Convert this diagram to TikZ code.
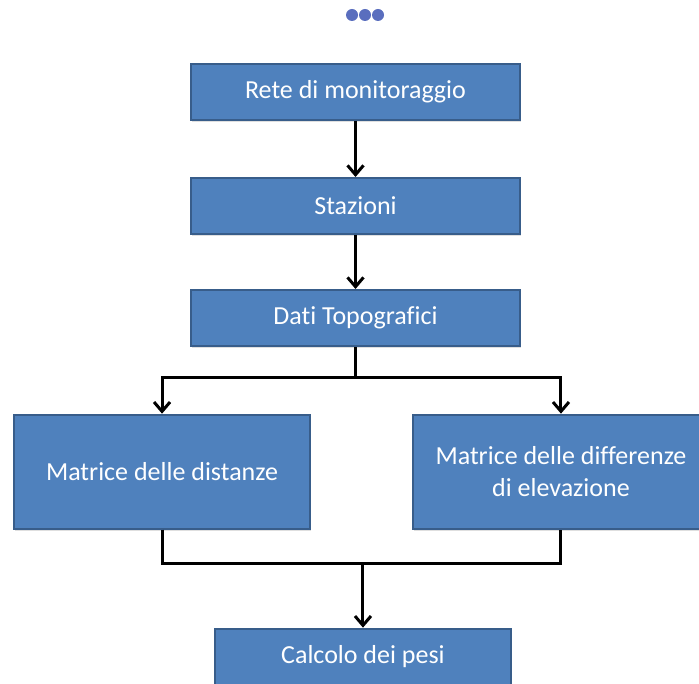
\documentclass[tikz,border=0pt]{standalone}
\usepackage{fontspec}
\setmainfont[Ligatures=CommonOff]{Carlito}
\usetikzlibrary{arrows.meta, positioning, shadows}
\definecolor{boxF}{RGB}{79, 129, 189}
\definecolor{boxD}{RGB}{56, 93, 138}
\definecolor{dotC}{RGB}{90, 110, 190}
\tikzset{
  stepbox/.style = {rectangle, draw=boxD, fill=boxF, line width=1.5pt,
                    text=white, align=center, minimum width=246.75pt,
                    minimum height=42pt, font=\fontsize{19.5}{23.5}\selectfont,
                    drop shadow={opacity=0.25, shadow xshift=1pt, shadow yshift=-1.5pt}},
  bigbox/.style  = {stepbox, minimum width=222pt, minimum height=85.5pt},
  arr/.style     = {-{Straight Barb[length=7pt, width=12pt]}, line width=2.25pt},
  lnk/.style     = {line width=2.25pt},
}

\begin{document}
\begin{tikzpicture}[x=0.75pt, y=0.75pt]
\useasboundingbox (0,0) rectangle (699,-684);

% ---- Dots -------------------------------------------------------------------
\foreach \dx in {352, 365, 378}
  \fill[dotC] (\dx,-15) circle (6);

% ---- Main column ------------------------------------------------------------
\node[stepbox] (rete) at (355.5,-92) {Rete di monitoraggio};
\node[stepbox, below=42pt of rete] (staz) {Stazioni};
\node[stepbox, below=40.5pt of staz] (dati) {Dati Topografici};

\draw[arr] (rete) -- (staz);
\draw[arr] (staz) -- (dati);

% ---- Matrices ---------------------------------------------------------------
\node[bigbox, below=50pt of dati, xshift=-145.1pt] (dist) {Matrice delle distanze};
\node[bigbox, below=50pt of dati, xshift=154.1pt] (elev)
  {Matrice delle differenze\\di elevazione};

\coordinate[below=23pt of dati.south] (split);
\draw[lnk] (dati.south) -- (split);
\draw[arr] (split) -| (dist.north);
\draw[arr] (split) -| (elev.north);

% ---- Output -----------------------------------------------------------------
\coordinate (pcol) at (dist.south -| rete.south);
\node[stepbox, minimum width=222pt, below=73.5pt of pcol, xshift=5.6pt] (pesi)
  {Calcolo dei pesi};

\coordinate[above=48pt of pesi.north] (join);
\draw[lnk] (dist.south) |- (join) -| (elev.south);
\draw[arr] (join) -- (pesi.north);

\end{tikzpicture}
\end{document}
